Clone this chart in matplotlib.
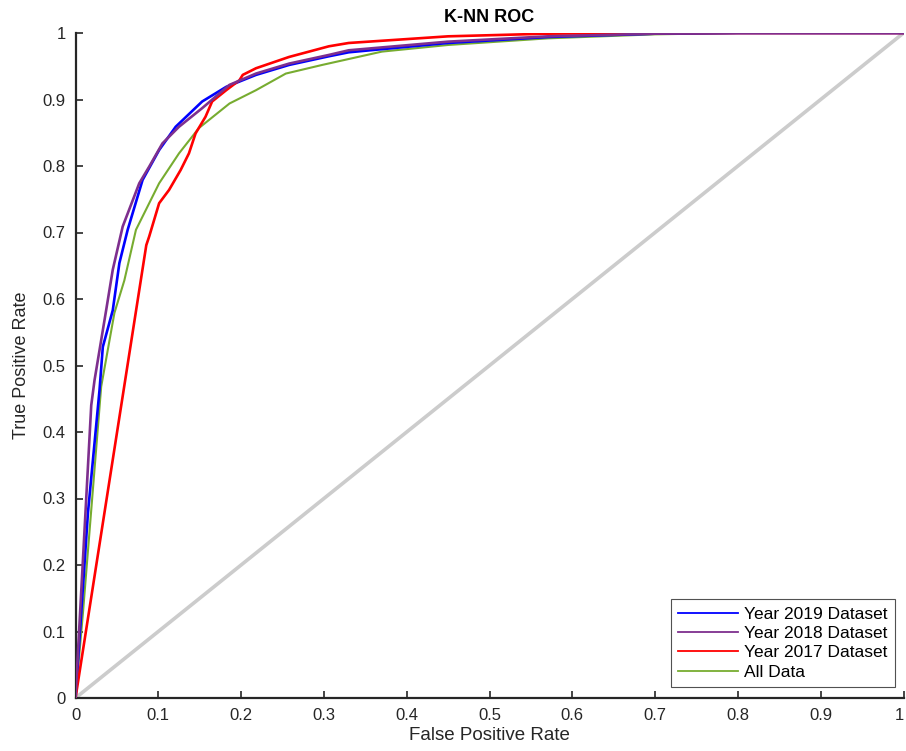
import matplotlib
matplotlib.use("Agg")
import matplotlib.pyplot as plt

plt.rcParams['font.family'] = ['Liberation Sans', 'DejaVu Sans']

# Year 2019 Dataset (blue)
fpr_2019 = [0, 0.015, 0.029, 0.033, 0.045, 0.053, 0.063, 0.081, 0.101, 0.121, 0.153, 0.182,
            0.218, 0.258, 0.306, 0.33, 0.45, 0.571, 0.7, 0.8, 1.0]
tpr_2019 = [0, 0.278, 0.463, 0.528, 0.583, 0.654, 0.704, 0.779, 0.824, 0.859, 0.897, 0.919,
            0.937, 0.952, 0.965, 0.971, 0.985, 0.994, 0.999, 1.0, 1.0]

# Year 2018 Dataset (purple)
fpr_2018 = [0, 0.019, 0.023, 0.037, 0.045, 0.057, 0.077, 0.089, 0.105, 0.125, 0.153, 0.186,
            0.218, 0.258, 0.306, 0.33, 0.45, 0.571, 0.7, 0.8, 1.0]
tpr_2018 = [0, 0.44, 0.478, 0.583, 0.644, 0.709, 0.774, 0.799, 0.834, 0.859, 0.887, 0.922,
            0.939, 0.954, 0.967, 0.974, 0.987, 0.995, 0.999, 1.0, 1.0]

# Year 2017 Dataset (red)
fpr_2017 = [0, 0.0855, 0.089, 0.101, 0.113, 0.127, 0.137, 0.145, 0.157, 0.165, 0.182, 0.198,
            0.202, 0.218, 0.258, 0.306, 0.33, 0.45, 0.571, 0.7, 1.0]
tpr_2017 = [0, 0.681, 0.694, 0.744, 0.764, 0.794, 0.819, 0.849, 0.874, 0.897, 0.914, 0.929,
            0.937, 0.947, 0.964, 0.980, 0.985, 0.995, 0.999, 1.0, 1.0]

# All Data (green)
fpr_all = [0, 0.009, 0.031, 0.047, 0.059, 0.073, 0.101, 0.125, 0.149, 0.186, 0.218, 0.254,
           0.298, 0.37, 0.45, 0.571, 0.7, 0.8, 1.0]
tpr_all = [0, 0.128, 0.468, 0.579, 0.628, 0.704, 0.774, 0.819, 0.857, 0.894, 0.914, 0.939,
           0.952, 0.972, 0.982, 0.992, 0.998, 1.0, 1.0]

chance = [0, 1]

W, H = 906, 751
fig = plt.figure(figsize=(W / 100, H / 100), dpi=100)
left, right, bottom, top = 75.5, 903.5, 698, 33
ax = fig.add_axes([left / W, 1 - bottom / H, (right - left) / W, (bottom - top) / H])

ax.plot(chance, chance, color='#cccccc', lw=2.6, zorder=1)
ax.plot(fpr_2019, tpr_2019, color='#0000ff', lw=1.9, label='Year 2019 Dataset', zorder=3)
ax.plot(fpr_2018, tpr_2018, color='#7e2f8e', lw=1.9, label='Year 2018 Dataset', zorder=4)
ax.plot(fpr_2017, tpr_2017, color='#ff0000', lw=1.9, label='Year 2017 Dataset', zorder=3)
ax.plot(fpr_all, tpr_all, color='#77ac30', lw=1.5, label='All Data', zorder=2)

ax.set_xlim(0, 1)
ax.set_ylim(0, 1)
ticks = [0, 0.1, 0.2, 0.3, 0.4, 0.5, 0.6, 0.7, 0.8, 0.9, 1]
ticklabels = ['0', '0.1', '0.2', '0.3', '0.4', '0.5', '0.6', '0.7', '0.8', '0.9', '1']
ax.set_xticks(ticks)
ax.set_xticklabels(ticklabels)
ax.set_yticks(ticks)
ax.set_yticklabels(ticklabels)
ax.tick_params(direction='in', length=5, width=1.2, labelsize=12, colors='#262626')
ax.tick_params(axis='x', pad=7)
ax.tick_params(axis='y', pad=7)
ax.get_xticklabels()[-1].set_horizontalalignment('right')
for s in ['top', 'right']:
    ax.spines[s].set_visible(False)
for s in ['left', 'bottom']:
    ax.spines[s].set_linewidth(1.6)
    ax.spines[s].set_color('#262626')

ax.set_xlabel('False Positive Rate', fontsize=13.5, color='#262626', labelpad=3)
ax.set_ylabel('True Positive Rate', fontsize=13, color='#262626', labelpad=9)
ax.set_title('K-NN ROC', fontsize=13, fontweight='bold', pad=8)

leg = ax.legend(loc='lower right', fontsize=12.5, frameon=True, fancybox=False,
                edgecolor='#262626', handlelength=3.45, borderpad=0.42, labelspacing=0.24,
                handletextpad=0.35, borderaxespad=0,
                bbox_to_anchor=(895 / W, 1 - 687 / H), bbox_transform=fig.transFigure)
leg.get_frame().set_linewidth(0.8)
for line in leg.get_lines():
    line.set_linewidth(1.3)

fig.savefig('out.png', dpi=100)
